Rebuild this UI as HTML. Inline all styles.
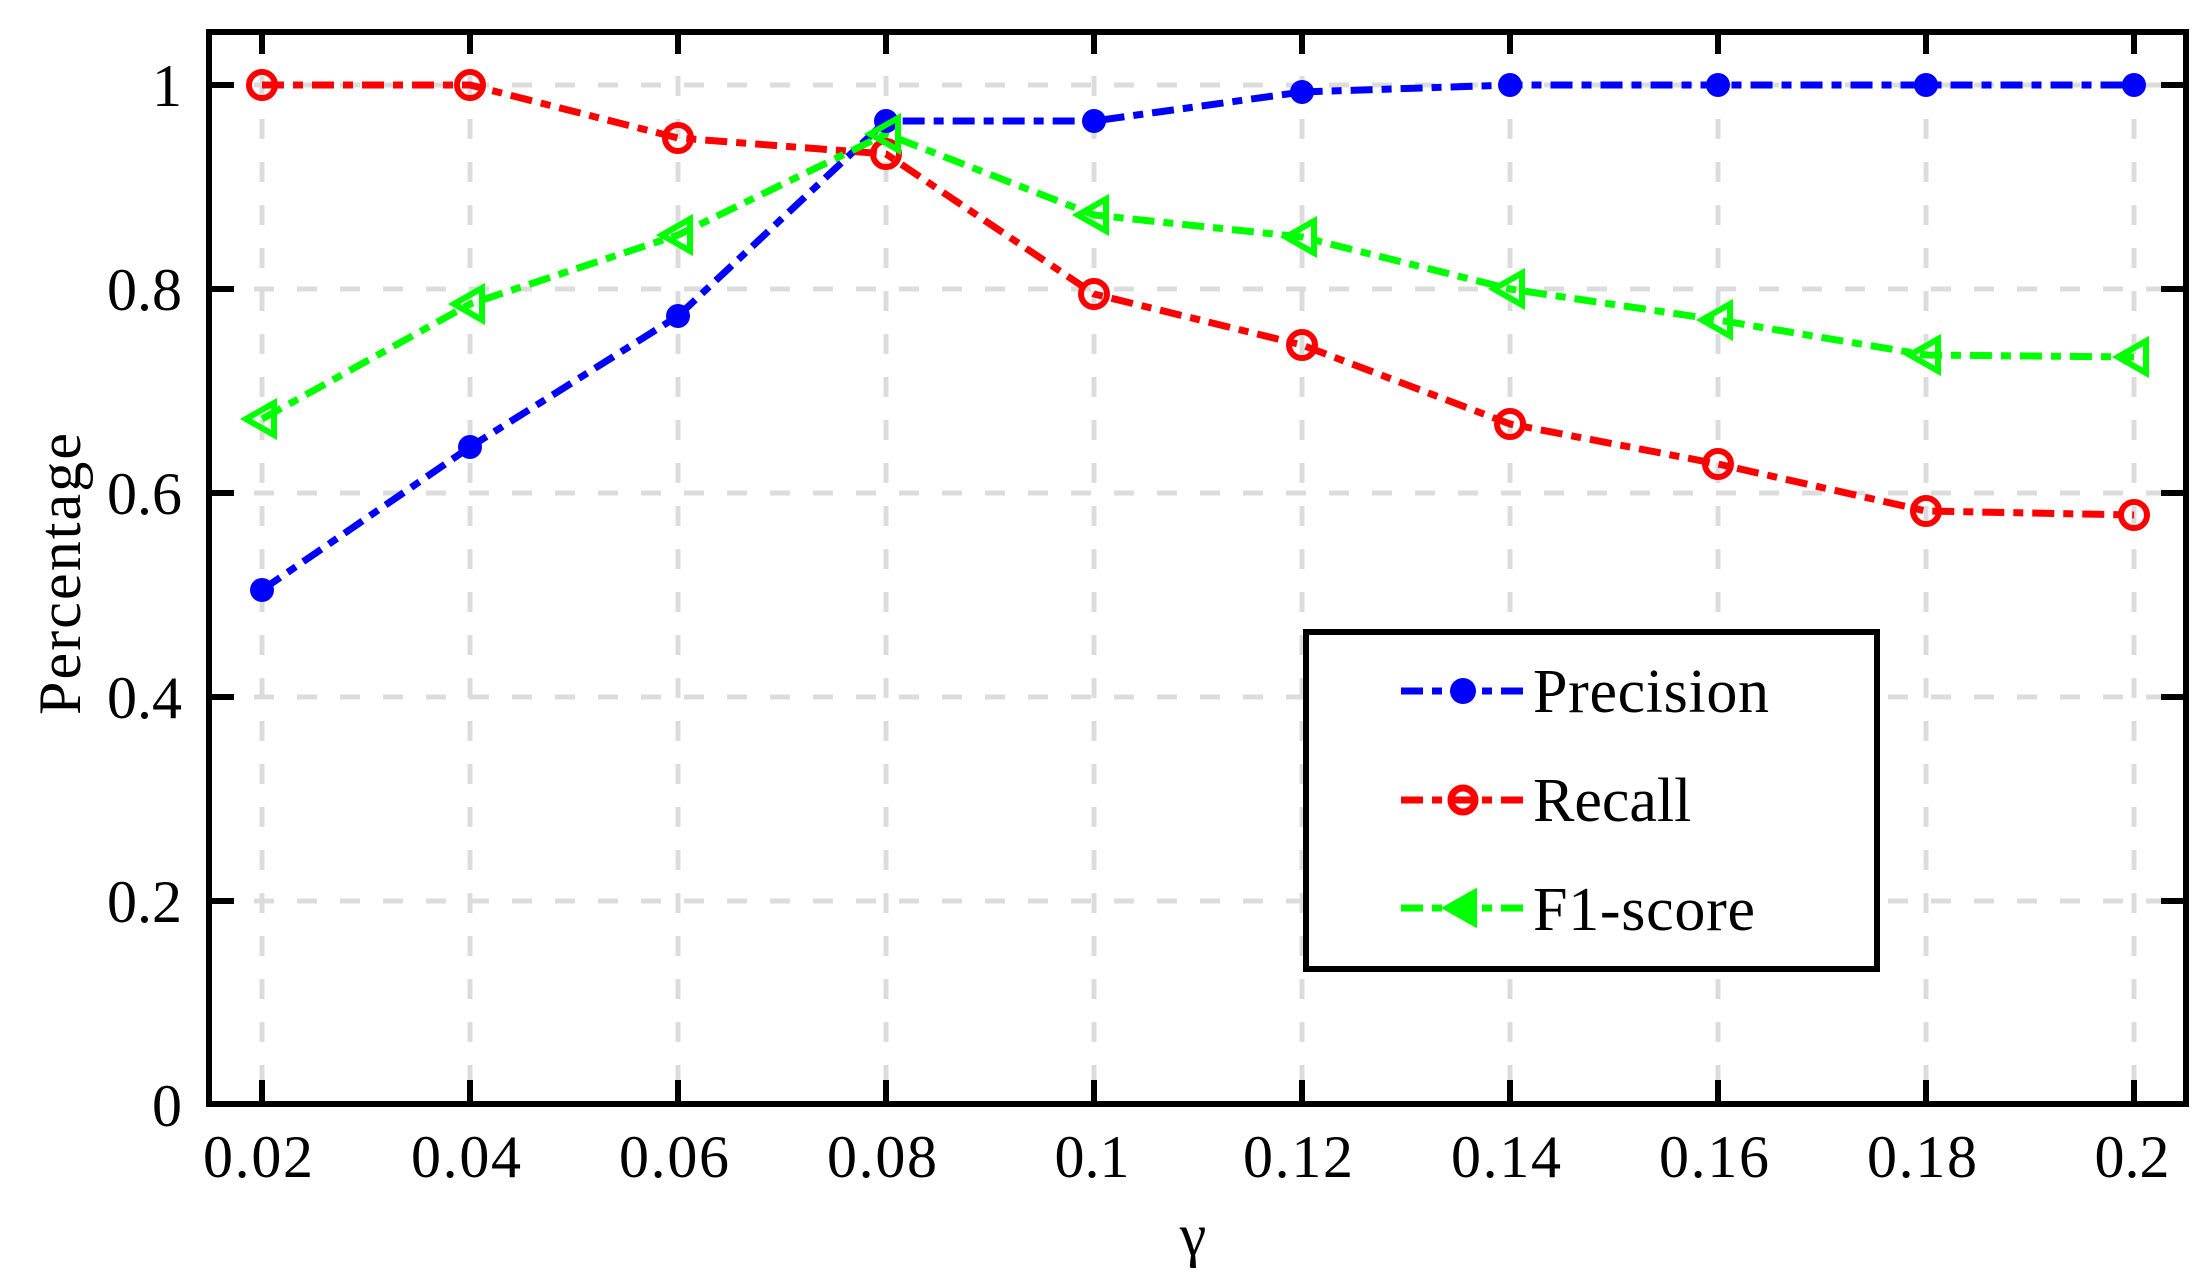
<!DOCTYPE html>
<html><head><meta charset="utf-8"><style>html,body{margin:0;padding:0;background:#fff}svg{display:block}</style></head>
<body>
<svg width="2209" height="1288" viewBox="0 0 2209 1288" xmlns="http://www.w3.org/2000/svg" font-family="'Liberation Serif', serif">
<rect width="2209" height="1288" fill="#fff"/>
<g stroke="#dcdcdc" stroke-width="5" stroke-dasharray="20 23">
<line x1="262" y1="33" x2="262" y2="1103"/><line x1="470" y1="33" x2="470" y2="1103"/><line x1="678" y1="33" x2="678" y2="1103"/><line x1="886" y1="33" x2="886" y2="1103"/><line x1="1094" y1="33" x2="1094" y2="1103"/><line x1="1302" y1="33" x2="1302" y2="1103"/><line x1="1510" y1="33" x2="1510" y2="1103"/><line x1="1718" y1="33" x2="1718" y2="1103"/><line x1="1926" y1="33" x2="1926" y2="1103"/><line x1="2134" y1="33" x2="2134" y2="1103"/>
<line x1="211" y1="85" x2="2184" y2="85"/><line x1="211" y1="289" x2="2184" y2="289"/><line x1="211" y1="493" x2="2184" y2="493"/><line x1="211" y1="697" x2="2184" y2="697"/><line x1="211" y1="901" x2="2184" y2="901"/>
</g>
<g stroke="#000" stroke-width="6">
<rect x="209" y="32" width="1977" height="1072" fill="none"/>
<path d="M262 1104v-24M470 1104v-24M678 1104v-24M886 1104v-24M1094 1104v-24M1302 1104v-24M1510 1104v-24M1718 1104v-24M1926 1104v-24M2134 1104v-24
M262 32v22M470 32v22M678 32v22M886 32v22M1094 32v22M1302 32v22M1510 32v22M1718 32v22M1926 32v22M2134 32v22
M209 85h25M209 289h25M209 493h25M209 697h25M209 901h25
M2186 85h-25M2186 289h-25M2186 493h-25M2186 697h-25M2186 901h-25"/>
</g>
<g font-size="60" text-anchor="end" fill="#000">
<text x="182" y="106">1</text><text x="182" y="310">0.8</text><text x="182" y="514">0.6</text><text x="182" y="718">0.4</text><text x="182" y="922">0.2</text><text x="182" y="1126">0</text>
</g>
<g font-size="60" text-anchor="middle" fill="#000">
<text x="258" y="1177" textLength="110">0.02</text><text x="466" y="1177" textLength="110">0.04</text><text x="674" y="1177" textLength="110">0.06</text><text x="882" y="1177" textLength="110">0.08</text><text x="1092" y="1177">0.1</text><text x="1298" y="1177" textLength="110">0.12</text><text x="1506" y="1177" textLength="110">0.14</text><text x="1714" y="1177" textLength="110">0.16</text><text x="1922" y="1177" textLength="110">0.18</text><text x="2132" y="1177">0.2</text>
<text x="1193" y="1255">γ</text>
<text transform="translate(80,574) rotate(-90)" textLength="282">Percentage</text>
</g>
<g fill="none" stroke-width="7" stroke-dasharray="22 9 10 9">
<polyline stroke="#0000ff" points="262,590 470,447 678,316 886,121 1094,121 1302,92 1510,85 1718,85 1926,85 2134,85"/>
<polyline stroke="#ff0000" points="262,85 470,85 678,138 886,154 1094,294 1302,345 1510,424 1718,464 1926,511 2134,515"/>
<polyline stroke="#00ff00" points="262,419 470,304 678,235 886,134 1094,215 1302,237 1510,289 1718,320 1926,355 2134,357"/>
</g>
<g fill="#0000ff">
<circle cx="262" cy="590" r="12"/><circle cx="470" cy="447" r="12"/><circle cx="678" cy="316" r="12"/><circle cx="886" cy="121" r="12"/><circle cx="1094" cy="121" r="12"/><circle cx="1302" cy="92" r="12"/><circle cx="1510" cy="85" r="12"/><circle cx="1718" cy="85" r="12"/><circle cx="1926" cy="85" r="12"/><circle cx="2134" cy="85" r="12"/>
</g>
<g fill="none" stroke="#ff0000" stroke-width="6">
<circle cx="262" cy="85" r="13"/><circle cx="470" cy="85" r="13"/><circle cx="678" cy="138" r="13"/><circle cx="886" cy="154" r="13"/><circle cx="1094" cy="294" r="13"/><circle cx="1302" cy="345" r="13"/><circle cx="1510" cy="424" r="13"/><circle cx="1718" cy="464" r="13"/><circle cx="1926" cy="511" r="13"/><circle cx="2134" cy="515" r="13"/>
</g>
<g fill="none" stroke="#00ff00" stroke-width="6">
<path d="M246 419l28-16v32z"/><path d="M454 304l28-16v32z"/><path d="M662 235l28-16v32z"/><path d="M870 134l28-16v32z"/><path d="M1078 215l28-16v32z"/><path d="M1286 237l28-16v32z"/><path d="M1494 289l28-16v32z"/><path d="M1702 320l28-16v32z"/><path d="M1910 355l28-16v32z"/><path d="M2118 357l28-16v32z"/>
</g>
<rect x="1306" y="632" width="571" height="337" fill="#fff" stroke="#000" stroke-width="6"/>
<g stroke-width="7" stroke-dasharray="22 9 10 9">
<line x1="1401" y1="691" x2="1525" y2="691" stroke="#0000ff"/>
<line x1="1401" y1="800" x2="1525" y2="800" stroke="#ff0000"/>
<line x1="1401" y1="908" x2="1525" y2="908" stroke="#00ff00"/>
</g>
<circle cx="1463" cy="691" r="13" fill="#0000ff"/>
<circle cx="1463" cy="800" r="12" fill="none" stroke="#ff0000" stroke-width="7"/>
<path d="M1445 908l30-17v34z" fill="#00ff00" stroke="#00ff00" stroke-width="4"/>
<g font-size="62" fill="#000">
<text x="1533" y="712" textLength="236">Precision</text>
<text x="1533" y="821">Recall</text>
<text x="1533" y="930" textLength="222">F1-score</text>
</g>
</svg>
</body></html>
